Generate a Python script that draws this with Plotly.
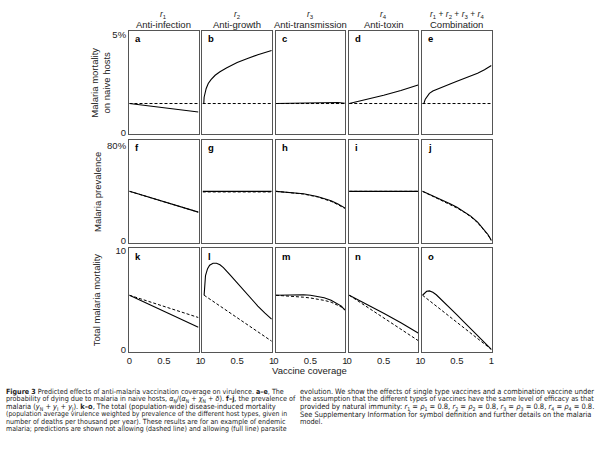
import plotly.graph_objects as go
from plotly.subplots import make_subplots

# ---------------- data ----------------
col_sym = ["<i>r</i><sub>1</sub>", "<i>r</i><sub>2</sub>", "<i>r</i><sub>3</sub>", "<i>r</i><sub>4</sub>",
           "<i>r</i><sub>1</sub> + <i>r</i><sub>2</sub> + <i>r</i><sub>3</sub> + <i>r</i><sub>4</sub>"]
col_names = ["Anti-infection", "Anti-growth", "Anti-transmission", "Anti-toxin", "Combination"]
panel_letters = ["a", "b", "c", "d", "e", "f", "g", "h", "i", "j", "k", "l", "m", "n", "o"]
row_titles = ["Malaria mortality<br>on naive hosts", "Malaria prevalence", "Total malaria mortality"]
row_ticks = [[0, 5], [0, 80], [0, 10]]
row_ticktext = [["0", "5%"], ["0", "80%"], ["0", "10"]]
x_ticks = [0, 0.5, 1]
x_ticktext = ["0", "0.5", "1"]

# Row 1: mortality on naive hosts (%)
a_x = [0, 0.25, 0.5, 0.75, 1]
a_full = [1.48, 1.37, 1.27, 1.16, 1.05]
a_dash = [1.48, 1.48, 1.48, 1.48, 1.48]
b_x = [0, 0.015, 0.02, 0.03, 0.05, 0.08, 0.12, 0.18, 0.25, 0.35, 0.5, 0.65, 0.8, 1.0]
b_full = [1.48, 1.48, 1.8, 2.0, 2.25, 2.5, 2.7, 2.92, 3.1, 3.3, 3.57, 3.78, 3.97, 4.18]
b_dash = [1.48] * 14
c_x = [0, 0.2, 0.4, 0.6, 0.75, 0.9, 1]
c_full = [1.48, 1.49, 1.51, 1.54, 1.55, 1.53, 1.49]
c_dash = [1.48] * 7
d_x = [0, 0.25, 0.5, 0.75, 1]
d_full = [1.48, 1.68, 1.9, 2.14, 2.42]
d_dash = [1.48] * 5
e_x = [0, 0.02, 0.04, 0.07, 0.1, 0.15, 0.2, 0.3, 0.4, 0.5, 0.6, 0.7, 0.8, 0.9, 1.0]
e_full = [1.48, 1.48, 1.7, 1.88, 2.0, 2.12, 2.2, 2.35, 2.48, 2.62, 2.75, 2.88, 3.02, 3.2, 3.42]
e_dash = [1.48] * 15

# Row 2: prevalence (%)
f_x = [0, 1]
f_full = [41.5, 23.9]
f_dash = [41.5, 23.9]
g_x = [0, 1]
g_full = [41.5, 41.5]
g_dash = [41.0, 41.0]
h_x = [0, 0.2, 0.4, 0.6, 0.8, 0.9, 1]
h_full = [41.5, 40.8, 39.5, 37.2, 33.5, 30.8, 27.5]
h_dash = [41.5, 40.6, 39.2, 36.8, 33.0, 30.2, 27.0]
i_x = [0, 1]
i_full = [41.5, 41.5]
i_dash = [41.5, 41.5]
j_x = [0, 0.1, 0.2, 0.3, 0.4, 0.5, 0.6, 0.7, 0.8, 0.9, 0.95, 1]
j_full = [41.5, 39.0, 36.5, 34.0, 31.0, 28.0, 24.5, 20.5, 15.5, 9.0, 5.0, 0]
j_dash = [41.5, 38.6, 36.0, 33.4, 30.5, 27.4, 24.0, 20.0, 15.0, 8.5, 4.6, 0]

# Row 3: total mortality
k_x = [0, 1]
k_full = [5.5, 2.24]
k_dash = [5.5, 3.24]
l_x = [0.02, 0.025, 0.04, 0.07, 0.1, 0.15, 0.2, 0.25, 0.3, 0.4, 0.5, 0.6, 0.7, 0.8, 0.9, 1]
l_full = [5.5, 6.4, 7.5, 8.2, 8.55, 8.75, 8.75, 8.6, 8.3, 7.55, 6.75, 5.95, 5.15, 4.4, 3.7, 3.07]
l_dx = [0.02, 1]
l_dash = [5.5, 0.84]
m_x = [0, 0.2, 0.4, 0.5, 0.6, 0.7, 0.8, 0.9, 0.95, 1]
m_full = [5.5, 5.55, 5.55, 5.5, 5.4, 5.25, 5.0, 4.65, 4.4, 4.0]
m_dash = [5.5, 5.42, 5.3, 5.22, 5.12, 4.98, 4.8, 4.5, 4.3, 4.05]
n_x = [0, 0.25, 0.5, 0.75, 1]
n_full = [5.5, 4.62, 3.68, 2.7, 1.67]
n_dx = [0, 1]
n_dash = [5.5, 0.9]
o_x = [0, 0.03, 0.06, 0.1, 0.15, 0.2, 0.3, 0.4, 0.5, 0.6, 0.7, 0.8, 0.9, 1]
o_full = [5.5, 5.75, 5.9, 5.94, 5.8, 5.55, 4.9, 4.2, 3.5, 2.8, 2.1, 1.4, 0.7, 0]
o_dx = [0, 1]
o_dash = [5.5, 0]

panels = [
    (a_x, a_full, a_x, a_dash), (b_x, b_full, b_x, b_dash), (c_x, c_full, c_x, c_dash),
    (d_x, d_full, d_x, d_dash), (e_x, e_full, e_x, e_dash),
    (f_x, f_full, f_x, f_dash), (g_x, g_full, g_x, g_dash), (h_x, h_full, h_x, h_dash),
    (i_x, i_full, i_x, i_dash), (j_x, j_full, j_x, j_dash),
    (k_x, k_full, k_x, k_dash), (l_x, l_full, l_dx, l_dash), (m_x, m_full, m_x, m_dash),
    (n_x, n_full, n_dx, n_dash), (o_x, o_full, o_dx, o_dash),
]

caption_left = [
    "<b>Figure 3</b> Predicted effects of anti-malaria vaccination coverage on virulence. <b>a–e</b>, The",
    "probability of dying due to malaria in naive hosts, <i>α</i><sub>N</sub>/(<i>α</i><sub>N</sub> + <i>χ</i><sub>N</sub> + <i>δ</i>). <b>f–j</b>, the prevalence of",
    "malaria (<i>y</i><sub>N</sub> + <i>y</i><sub>I</sub> + <i>y</i><sub>J</sub>). <b>k–o</b>, The total (population-wide) disease-induced mortality",
    "(population average virulence weighted by prevalence of the different host types, given in",
    "number of deaths per thousand per year). These results are for an example of endemic",
    "malaria; predictions are shown not allowing (dashed line) and allowing (full line) parasite",
]
caption_right = [
    "evolution. We show the effects of single type vaccines and a combination vaccine under",
    "the assumption that the different types of vaccines have the same level of efficacy as that",
    "provided by natural immunity: <i>r</i><sub>1</sub> = <i>ρ</i><sub>1</sub> = 0.8, <i>r</i><sub>2</sub> = <i>ρ</i><sub>2</sub> = 0.8, <i>r</i><sub>3</sub> = <i>ρ</i><sub>3</sub> = 0.8, <i>r</i><sub>4</sub> = <i>ρ</i><sub>4</sub> = 0.8.",
    "See Supplementary Information for symbol definition and further details on the malaria",
    "model.",
]

# ---------------- layout geometry (pixels) ----------------
W, H = 600, 466
col_left = [128, 201.75, 275.5, 349.25, 423]
col_w = 70
row_top = [28, 139, 249]
row_h = 105
y_ranges = [[-0.075, 5.2], [-2.5, 85], [-0.23, 10.27]]

FONT = "Liberation Sans, Arial, Helvetica, sans-serif"
CAPFONT = "Liberation Sans Narrow, Arial Narrow, DejaVu Sans Condensed, sans-serif"
cap_left_size = [7.1, 7.2, 7.4, 6.9, 7.1, 7.0]
cap_right_size = [7.4, 7.2, 7.5, 7.4, 7.3]

fig = make_subplots(rows=3, cols=5)

for idx, (fx, fy, dx, dy) in enumerate(panels):
    r, c = idx // 5 + 1, idx % 5 + 1
    fig.add_trace(go.Scatter(x=dx, y=dy, mode="lines", line=dict(color="black", width=1, dash="3px,2px"),
                             showlegend=False, hoverinfo="skip"), row=r, col=c)
    fig.add_trace(go.Scatter(x=fx, y=fy, mode="lines", line=dict(color="black", width=1.1),
                             showlegend=False, hoverinfo="skip"), row=r, col=c)

for idx in range(15):
    r, c = idx // 5, idx % 5
    n = idx + 1
    xa = "xaxis" if n == 1 else f"xaxis{n}"
    ya = "yaxis" if n == 1 else f"yaxis{n}"
    x0 = col_left[c] / W
    x1 = (col_left[c] + col_w) / W
    y1 = 1 - row_top[r] / H
    y0 = 1 - (row_top[r] + row_h) / H
    fig.layout[xa].update(domain=[x0, x1], range=[-0.005, 1.005], showgrid=False, zeroline=False,
                          showline=True, mirror=True, linecolor="#555", linewidth=1.3,
                          ticks="", tickvals=x_ticks, ticktext=x_ticktext,
                          showticklabels=(r == 2), tickfont=dict(family=FONT, size=9.5, color="#222"))
    fig.layout[ya].update(domain=[y0, y1], range=y_ranges[r], showgrid=False, zeroline=False,
                          showline=True, mirror=True, linecolor="#555", linewidth=1.3,
                          ticks="", tickvals=row_ticks[r], ticktext=row_ticktext[r],
                          showticklabels=(c == 0), tickfont=dict(family=FONT, size=9.5, color="#222"))
    # panel letter
    fig.add_annotation(x=(col_left[c] + 4) / W, y=1 - (row_top[r] + 8) / H, xref="paper", yref="paper",
                       text=f"<b>{panel_letters[idx]}</b>", showarrow=False, xanchor="left", yanchor="middle",
                       font=dict(family=FONT, size=9.5, color="black"))

# column headers
for c in range(5):
    cx = (col_left[c] + col_w / 2) / W
    fig.add_annotation(x=cx, y=1 - 12 / H, xref="paper", yref="paper", text=col_sym[c], showarrow=False,
                       xanchor="center", yanchor="middle", font=dict(family=FONT, size=8.5, color="#222"))
    fig.add_annotation(x=cx, y=1 - 22 / H, xref="paper", yref="paper", text=col_names[c], showarrow=False,
                       xanchor="center", yanchor="middle", font=dict(family=FONT, size=9.5, color="#222"))

# row titles
row_title_x = [99, 96, 96]
for r in range(3):
    fig.add_annotation(x=row_title_x[r] / W, y=1 - (row_top[r] + row_h / 2) / H, xref="paper", yref="paper",
                       text=row_titles[r], showarrow=False, textangle=-90, xanchor="center", yanchor="middle",
                       font=dict(family=FONT, size=9.5, color="#222"))

# x title
fig.add_annotation(x=310 / W, y=1 - 373 / H, xref="paper", yref="paper", text="Vaccine coverage",
                   showarrow=False, xanchor="center", yanchor="middle", font=dict(family=FONT, size=9.5, color="#222"))

# caption
for i, line in enumerate(caption_left):
    fig.add_annotation(x=3 / W, y=1 - (388.5 + 7.8 * i) / H, xref="paper", yref="paper", text=line,
                       showarrow=False, xanchor="left", yanchor="top", borderpad=0,
                       font=dict(family=CAPFONT, size=cap_left_size[i], color="#222"))
for i, line in enumerate(caption_right):
    fig.add_annotation(x=299 / W, y=1 - (388.5 + 7.8 * i) / H, xref="paper", yref="paper", text=line,
                       showarrow=False, xanchor="left", yanchor="top", borderpad=0,
                       font=dict(family=CAPFONT, size=cap_right_size[i], color="#222"))

fig.update_layout(width=W, height=H, margin=dict(l=0, r=0, t=0, b=0),
                  paper_bgcolor="white", plot_bgcolor="white")

fig.write_html("out.html", config={"displayModeBar": False},
               post_script="document.body.style.margin='0px';")
